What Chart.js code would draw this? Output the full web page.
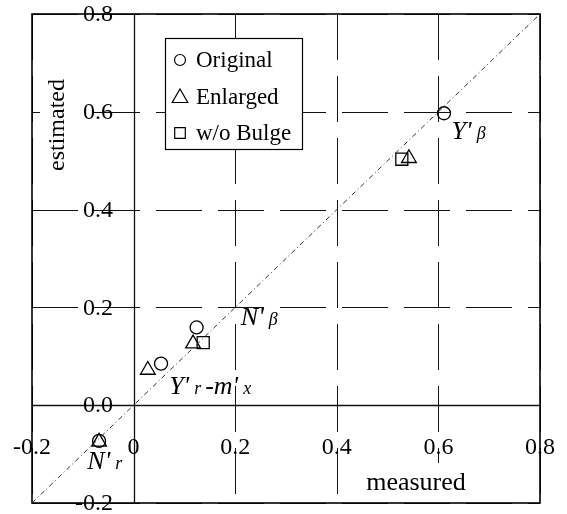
<!DOCTYPE html>
<html>
<head>
<meta charset="utf-8">
<script src="https://cdn.jsdelivr.net/npm/chart.js@4/dist/chart.umd.min.js"></script>
<style>
  body { margin: 0; background: #fff; }
  canvas { display: block; }
</style>
</head>
<body>
<canvas id="myChart" width="567" height="514"></canvas>
<script>
	var seriesNames = ["Original", "Enlarged", "w/o Bulge"];
	var originalX = [0.611, 0.124, 0.054, -0.068];
	var originalY = [0.597, 0.159, 0.085, -0.073];
	var enlargedX = [0.542, 0.117, 0.028, -0.068];
	var enlargedY = [0.505, 0.126, 0.072, -0.075];
	var bulgeX = [0.528, 0.137];
	var bulgeY = [0.503, 0.128];
	var diagX = [-0.2, 0.8];
	var diagY = [-0.2, 0.8];
	var xTicks = [-0.2, 0, 0.2, 0.4, 0.6, 0.8];
	var xTickLabels = ["-0.2", "0", "0.2", "0.4", "0.6", "0.8"];
	var yTicks = [-0.2, 0, 0.2, 0.4, 0.6, 0.8];
	var yTickLabels = ["-0.2", "0.0", "0.2", "0.4", "0.6", "0.8"];

	// labels next to the points: main letters, subscript, anchor point (x, y)
	var noteParts = [
		[["Y'", "β"]],
		[["N'", "β"]],
		[["Y'", "r"], ["-m'", "x"]],
		[["N'", "r"]]
	];
	var noteX = [0.626, 0.211, 0.07, -0.091];
	var noteY = [0.545, 0.163, 0.023, -0.13];

	function pairs(xs, ys) {
		var out = [];
		for (var i = 0; i < xs.length; i++) out.push({x: xs[i], y: ys[i]});
		return out;
	}

	var serif = '"Liberation Serif", "Times New Roman", serif';

	var paperPlugin = {
		id: 'paper',
		beforeDatasetsDraw: function(chart) {
			var ctx = chart.ctx;
			var a = chart.chartArea;
			var xs = chart.scales.x, ys = chart.scales.y;
			ctx.save();
			ctx.strokeStyle = '#111';
			// vertical grid
			for (var i = 0; i < xTicks.length; i++) {
				var px = Math.round(xs.getPixelForValue(xTicks[i])) + 0.5;
				if (xTicks[i] === 0) { ctx.setLineDash([]); ctx.lineWidth = 1.3; }
				else { ctx.setLineDash([46, 16]); ctx.lineWidth = 1; }
				ctx.beginPath(); ctx.moveTo(px, a.top); ctx.lineTo(px, a.bottom); ctx.stroke();
			}
			// horizontal grid
			for (var j = 0; j < yTicks.length; j++) {
				var py = Math.round(ys.getPixelForValue(yTicks[j])) + 0.5;
				if (yTicks[j] === 0) { ctx.setLineDash([]); ctx.lineWidth = 1.3; }
				else { ctx.setLineDash([46, 16]); ctx.lineWidth = 1; }
				ctx.beginPath(); ctx.moveTo(a.left, py); ctx.lineTo(a.right, py); ctx.stroke();
			}
			ctx.setLineDash([]);
			ctx.lineWidth = 1.6;
			ctx.strokeStyle = '#000';
			ctx.strokeRect(a.left, a.top, a.right - a.left, a.bottom - a.top);
			ctx.restore();
		},
		afterDraw: function(chart) {
			var ctx = chart.ctx;
			var a = chart.chartArea;
			var xs = chart.scales.x, ys = chart.scales.y;
			ctx.save();
			ctx.fillStyle = '#000';
			ctx.font = '24px ' + serif;

			// y tick labels, inside the plot
			ctx.textAlign = 'right';
			ctx.textBaseline = 'middle';
			for (var j = 0; j < yTicks.length; j++) {
				ctx.fillText(yTickLabels[j], a.left + 81, ys.getPixelForValue(yTicks[j]) + 1);
			}
			// x tick labels, inside the plot
			ctx.textAlign = 'center';
			for (var i = 0; i < xTicks.length; i++) {
				ctx.fillText(xTickLabels[i], xs.getPixelForValue(xTicks[i]), a.bottom - 55);
			}

			// axis titles on white boxes
			ctx.fillStyle = '#fff';
			ctx.fillRect(a.left + 8, a.top + 58, 38, 120);
			ctx.fillRect(a.left + 325, a.bottom - 40, 120, 38);
			ctx.fillStyle = '#000';
			ctx.font = '26px ' + serif;
			ctx.fillText("measured", a.left + 384, a.bottom - 20);
			ctx.save();
			ctx.translate(a.left + 26, a.top + 111);
			ctx.rotate(-Math.PI / 2);
			ctx.font = '24px ' + serif;
			ctx.fillText("estimated", 0, 0);
			ctx.restore();

			// point notes
			ctx.textAlign = 'left';
			ctx.textBaseline = 'alphabetic';
			for (var n = 0; n < noteParts.length; n++) {
				var tx = xs.getPixelForValue(noteX[n]);
				var ty = ys.getPixelForValue(noteY[n]);
				for (var p = 0; p < noteParts[n].length; p++) {
					ctx.font = 'italic 26px ' + serif;
					ctx.fillText(noteParts[n][p][0], tx, ty);
					tx += ctx.measureText(noteParts[n][p][0]).width + 5;
					ctx.font = 'italic 18px ' + serif;
					ctx.fillText(noteParts[n][p][1], tx, ty);
					tx += ctx.measureText(noteParts[n][p][1]).width + 4;
				}
			}

			// legend box
			var lx = a.left + 133, ly = a.top + 24, lw = 137, lh = 111;
			ctx.fillStyle = '#fff';
			ctx.fillRect(lx, ly, lw, lh);
			ctx.lineWidth = 1.2;
			ctx.strokeStyle = '#000';
			ctx.strokeRect(lx + 0.5, ly + 0.5, lw, lh);
			ctx.font = '23px ' + serif;
			ctx.textBaseline = 'middle';
			var legendStyles = ['circle', 'triangle', 'rect'];
			var legendRadius = [5.5, 9, 7.5];
			for (var k = 0; k < seriesNames.length; k++) {
				var my = ly + 22 + k * 36.5;
				ctx.lineWidth = 1.2;
				ctx.fillStyle = '#fff';
				Chart.helpers.drawPoint(ctx, {pointStyle: legendStyles[k], radius: legendRadius[k], borderWidth: 1.2}, lx + 15, my + (k === 1 ? 1.5 : 0));
				ctx.fillStyle = '#000';
				ctx.fillText(seriesNames[k], lx + 31, my + 1);
			}
			ctx.restore();
		}
	};

	function buildChart() {
		var ctx = document.getElementById('myChart').getContext('2d');
		var chart = new Chart(ctx, {
			type: 'scatter',
			data: {
				datasets: [{
					label: "diagonal",
					data: pairs(diagX, diagY),
					showLine: true,
					borderColor: '#333',
					borderWidth: 1,
					borderDash: [5, 3, 1, 3],
					pointRadius: 0
				}, {
					label: seriesNames[0],
					data: pairs(originalX, originalY),
					pointStyle: 'circle',
					pointRadius: 6.5,
					borderColor: '#000',
					borderWidth: 1.3,
					backgroundColor: 'rgba(0,0,0,0)'
				}, {
					label: seriesNames[1],
					data: pairs(enlargedX, enlargedY),
					pointStyle: 'triangle',
					pointRadius: 8.5,
					borderColor: '#000',
					borderWidth: 1.3,
					backgroundColor: 'rgba(0,0,0,0)'
				}, {
					label: seriesNames[2],
					data: pairs(bulgeX, bulgeY),
					pointStyle: 'rect',
					pointRadius: 8.5,
					borderColor: '#000',
					borderWidth: 1.3,
					backgroundColor: 'rgba(0,0,0,0)'
				}]
			},
			options: {
				responsive: false,
				animation: false,
				devicePixelRatio: 1,
				layout: { padding: { left: 32, top: 14, right: 27, bottom: 11 } },
				scales: {
					x: { type: 'linear', min: -0.2, max: 0.8, display: false },
					y: { type: 'linear', min: -0.2, max: 0.8, display: false }
				},
				plugins: {
					legend: { display: false },
					tooltip: { enabled: false }
				}
			},
			plugins: [paperPlugin]
		});
	}

	buildChart();
</script>
</body>
</html>
